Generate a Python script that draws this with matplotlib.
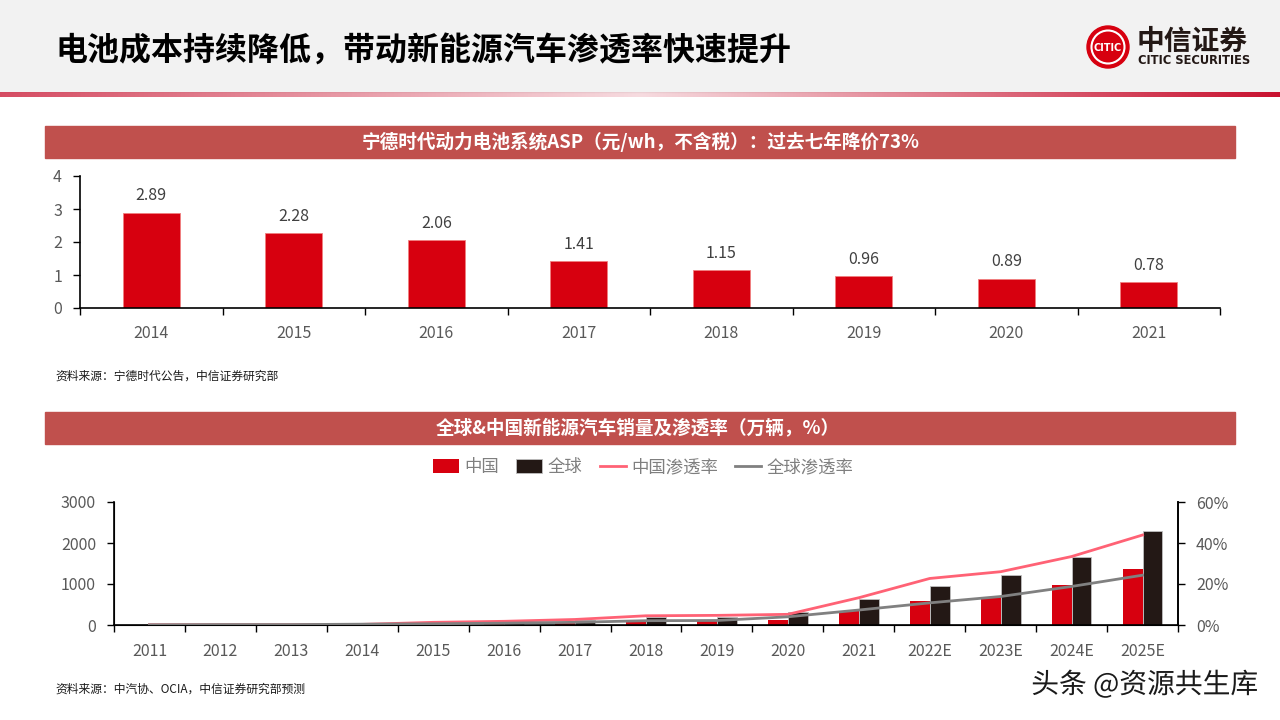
import numpy as np
import matplotlib
matplotlib.use("Agg")
import matplotlib.pyplot as plt
import matplotlib.patheffects as pe
from matplotlib.patches import Rectangle, Circle
from matplotlib.ticker import FuncFormatter, FixedLocator

plt.rcParams['font.family'] = ['Noto Sans CJK SC', 'DejaVu Sans']

# 宁德时代动力电池系统ASP（元/wh）
asp_years = ['2014', '2015', '2016', '2017', '2018', '2019', '2020', '2021']
asp_values = [2.89, 2.28, 2.06, 1.41, 1.15, 0.96, 0.89, 0.78]

# 全球&中国新能源汽车销量（万辆）及渗透率
ev_years = ['2011', '2012', '2013', '2014', '2015', '2016', '2017', '2018', '2019',
            '2020', '2021', '2022E', '2023E', '2024E', '2025E']
china_sales = [1, 1, 2, 7, 33, 51, 62, 105, 100, 122, 335, 585, 690, 970, 1370]
global_sales = [5, 12, 20, 32, 55, 77, 122, 204, 190, 310, 628, 954, 1222, 1654, 2298]
china_pen = [0.1, 0.1, 0.1, 0.3, 1.3, 1.8, 2.7, 4.5, 4.7, 5.2, 13.3, 22.7, 26.0, 33.4, 43.9]
global_pen = [0.1, 0.2, 0.2, 0.4, 0.6, 0.9, 1.3, 2.1, 2.2, 4.0, 7.3, 10.8, 13.9, 18.8, 24.3]

RED = '#D7000F'
BLACK = '#231815'
PINK = '#FF6275'
GREY = '#808080'
BAND = '#C0504D'
TICK = '#595959'

W, H = 1280, 720
fig = plt.figure(figsize=(12.8, 7.2), dpi=100)
fig.patch.set_facecolor('white')

# overlay for page decoration, pixel coordinates
deco = fig.add_axes([0, 0, 1, 1])
deco.set_xlim(0, W)
deco.set_ylim(H, 0)
deco.axis('off')

deco.add_patch(Rectangle((0, 0), W, 92, color='#F2F2F2', zorder=0))
# gradient rule under the header
alpha = np.concatenate([np.linspace(0.75, 0.15, 640), np.linspace(0.15, 1.0, 640)])
grad = np.zeros((1, W, 4))
grad[..., :3] = matplotlib.colors.to_rgb('#C8102E')
grad[0, :, 3] = alpha
deco.imshow(grad, extent=[0, W, 97, 92], aspect='auto', zorder=1)

deco.text(55, 52, '电池成本持续降低，带动新能源汽车渗透率快速提升', fontsize=23,
          fontweight='bold', color='black', va='center', ha='left')

# logo
deco.add_patch(Circle((1108, 47), 21, color='#D7000F', zorder=2))
deco.add_patch(Circle((1108, 47), 16.5, fill=False, ec='white', lw=1.5, zorder=3))
deco.text(1108, 48, 'CITIC', fontsize=7, fontweight='bold', color='white',
          ha='center', va='center', family=['DejaVu Sans'], zorder=4)
deco.text(1137, 42, '中信证券', fontsize=20, fontweight='bold', color='#231815',
          ha='left', va='center')
deco.text(1138, 61, 'CITIC SECURITIES', fontsize=8.3, fontweight='bold', color='#231815',
          ha='left', va='center', family=['DejaVu Sans'])

# section headers
deco.add_patch(Rectangle((45, 126), 1190, 32, color=BAND, zorder=1))
deco.text(641, 142, '宁德时代动力电池系统ASP（元/wh，不含税）：过去七年降价73%', fontsize=13.4,
          fontweight='bold', color='white', ha='center', va='center')
deco.add_patch(Rectangle((45, 412), 1190, 32, color=BAND, zorder=1))
deco.text(638, 428, '全球&中国新能源汽车销量及渗透率（万辆，%）', fontsize=13.4,
          fontweight='bold', color='white', ha='center', va='center')

deco.text(55, 376, '资料来源：宁德时代公告，中信证券研究部', fontsize=8.5, color='#1a1a1a',
          ha='left', va='center')
deco.text(55, 689, '资料来源：中汽协、OCIA，中信证券研究部预测', fontsize=8.5, color='#1a1a1a',
          ha='left', va='center')

deco.text(1258, 685, '头条 @资源共生库', fontsize=20, color='#1a1a1a', ha='right', va='center',
          path_effects=[pe.withStroke(linewidth=2.5, foreground='white')], zorder=10)

# ---- top chart: ASP bars
ax1 = fig.add_axes([80 / W, 1 - 308 / H, 1140 / W, 132 / H])
x1 = np.arange(len(asp_years))
ax1.bar(x1, asp_values, width=0.4, color=RED, edgecolor='#F08080', linewidth=0.6)
for xi, v in zip(x1, asp_values):
    ax1.text(xi, v + 0.25, f'{v:.2f}', ha='center', va='bottom', fontsize=11.5, color='#404040')
ax1.set_xlim(-0.5, len(asp_years) - 0.5)
ax1.set_ylim(0, 4)
ax1.set_yticks([0, 1, 2, 3, 4])
ax1.xaxis.set_major_locator(FixedLocator(x1))
ax1.set_xticklabels(asp_years)
ax1.xaxis.set_minor_locator(FixedLocator(np.arange(-0.5, len(asp_years), 1.0)))
ax1.tick_params(axis='x', which='major', length=0, pad=12, labelsize=11.5, labelcolor=TICK)
ax1.tick_params(axis='x', which='minor', length=5, width=1, direction='out')
ax1.tick_params(axis='y', length=5, width=1, direction='out', labelsize=11.5, labelcolor=TICK, pad=8)
for s in ['top', 'right']:
    ax1.spines[s].set_visible(False)
for s in ['left', 'bottom']:
    ax1.spines[s].set_linewidth(1.2)
ax1.set_facecolor('none')

# ---- bottom chart: sales + penetration
ax2 = fig.add_axes([114 / W, 1 - 625 / H, 1064 / W, 123 / H])
x2 = np.arange(len(ev_years))
bw = 0.28
ax2.bar(x2 - bw / 2, china_sales, width=bw, color=RED, label='中国', zorder=2)
ax2.bar(x2 + bw / 2, global_sales, width=bw, color=BLACK, edgecolor='#BFBFBF', linewidth=0.6,
        label='全球', zorder=2)
ax2.set_xlim(-0.5, len(ev_years) - 0.5)
ax2.set_ylim(0, 3000)
ax2.set_yticks([0, 1000, 2000, 3000])
ax2.xaxis.set_major_locator(FixedLocator(x2))
ax2.set_xticklabels(ev_years)
ax2.xaxis.set_minor_locator(FixedLocator(np.arange(-0.5, len(ev_years), 1.0)))
ax2.tick_params(axis='x', which='major', length=0, pad=13, labelsize=11.5, labelcolor=TICK)
ax2.tick_params(axis='x', which='minor', length=5, width=1, direction='out')
ax2.tick_params(axis='y', length=5, width=1, direction='out', labelsize=11.5, labelcolor=TICK, pad=8)
ax2.spines['top'].set_visible(False)
for s in ['left', 'bottom', 'right']:
    ax2.spines[s].set_linewidth(1.2)
ax2.set_facecolor('none')

ax3 = ax2.twinx()
ax3.plot(x2, china_pen, color=PINK, lw=2, label='中国渗透率', zorder=3)
ax3.plot(x2, global_pen, color=GREY, lw=2, label='全球渗透率', zorder=3)
ax3.set_ylim(0, 60)
ax3.set_yticks([0, 20, 40, 60])
ax3.yaxis.set_major_formatter(FuncFormatter(lambda v, p: f'{v:.0f}%'))
ax3.tick_params(axis='y', length=5, width=1, direction='out', labelsize=11.5, labelcolor=TICK, pad=8)
ax3.spines['top'].set_visible(False)
ax3.spines['right'].set_linewidth(1.2)

h1, l1 = ax2.get_legend_handles_labels()
h2, l2 = ax3.get_legend_handles_labels()
leg = fig.legend(h1 + h2, l1 + l2, loc='center', bbox_to_anchor=(643 / W, 1 - 467 / H), ncol=4,
                 frameon=False, fontsize=12.5, handlelength=1.5, handleheight=0.8,
                 columnspacing=1.0, handletextpad=0.3)
for t in leg.get_texts():
    t.set_color('#7F7F7F')

fig.savefig('out.png', dpi=100)
